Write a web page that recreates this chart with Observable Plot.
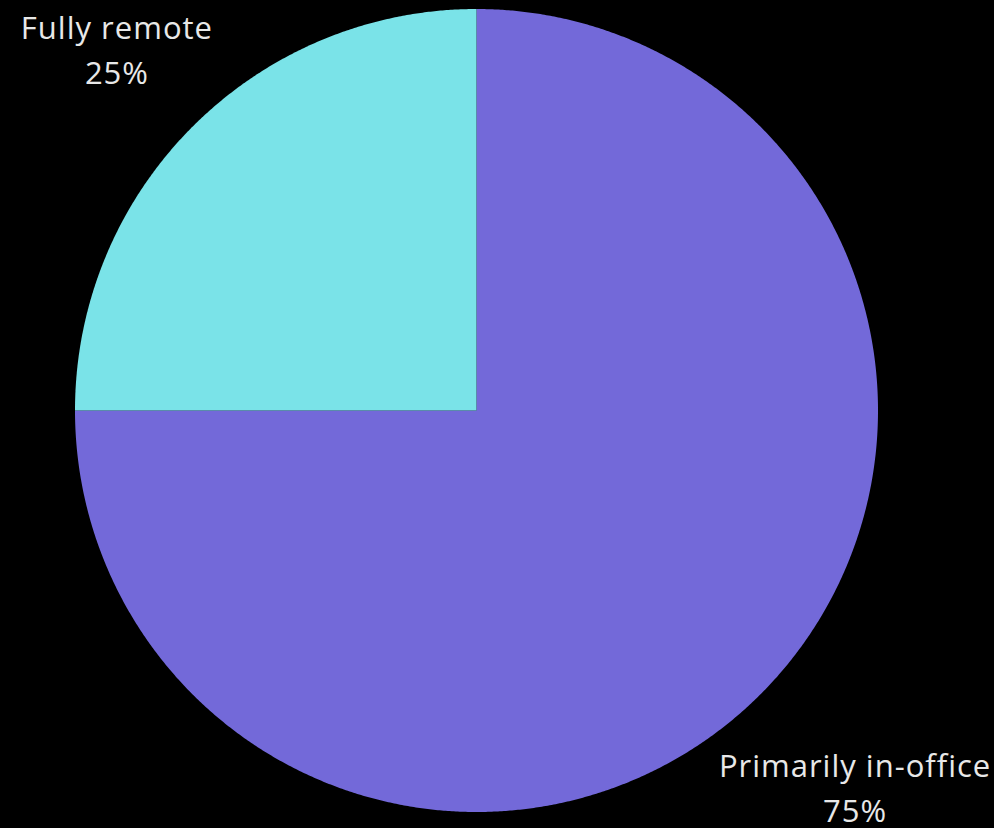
<!DOCTYPE html>
<html>
<head>
<meta charset="utf-8">
<script src="https://cdn.jsdelivr.net/npm/d3@7"></script>
<script src="https://cdn.jsdelivr.net/npm/@observablehq/plot@0.6"></script>
<style>
  html, body { margin: 0; padding: 0; background: #000; }
  #chart { width: 994px; height: 828px; }
</style>
</head>
<body>
<div id="chart"></div>
<script>
const categories = ["Primarily in-office", "Fully remote"];
const values = [75, 25];
const colors = ["#7369D9", "#7AE3E8"];

const pie = d3.pie().sort(null).value(d => d.value)
  (categories.map((c, i) => ({category: c, value: values[i]})));

// Build slice polygons in unit coordinates (clockwise from 12 o'clock)
const slicePts = [];
for (const s of pie) {
  const n = Math.max(2, Math.ceil((s.endAngle - s.startAngle) / 0.005));
  slicePts.push({category: s.data.category, x: 0, y: 0});
  for (let k = 0; k <= n; k++) {
    const a = s.startAngle + (s.endAngle - s.startAngle) * k / n;
    slicePts.push({category: s.data.category, x: Math.sin(a), y: Math.cos(a)});
  }
  slicePts.push({category: s.data.category, x: 0, y: 0});
}

const labelR = 1.30;
const labels = pie.map(s => {
  const a = (s.startAngle + s.endAngle) / 2;
  return {
    category: s.data.category,
    text: `${s.data.category}\n${s.data.value}%`,
    x: labelR * Math.sin(a),
    y: labelR * Math.cos(a)
  };
});

const chart = Plot.plot({
  width: 994,
  height: 828,
  marginLeft: 74.5,
  marginRight: 116.5,
  marginTop: 8.5,
  marginBottom: 16.5,
  style: {background: "#000", overflow: "visible", letterSpacing: "1px"},
  x: {domain: [-1, 1], axis: null},
  y: {domain: [-1, 1], axis: null},
  color: {domain: categories, range: colors},
  marks: [
    Plot.line(slicePts, {x: "x", y: "y", z: "category", fill: "category", stroke: "none"}),
    Plot.text(labels, {
      x: "x", y: "y", text: "text",
      dx: 9.5, dy: 6,
      fill: "#E8E8E8",
      fontSize: 31,
      fontFamily: "Open Sans",
      lineHeight: 1.45,
      textAnchor: "middle"
    })
  ]
});
document.getElementById("chart").appendChild(chart);
</script>
</body>
</html>
